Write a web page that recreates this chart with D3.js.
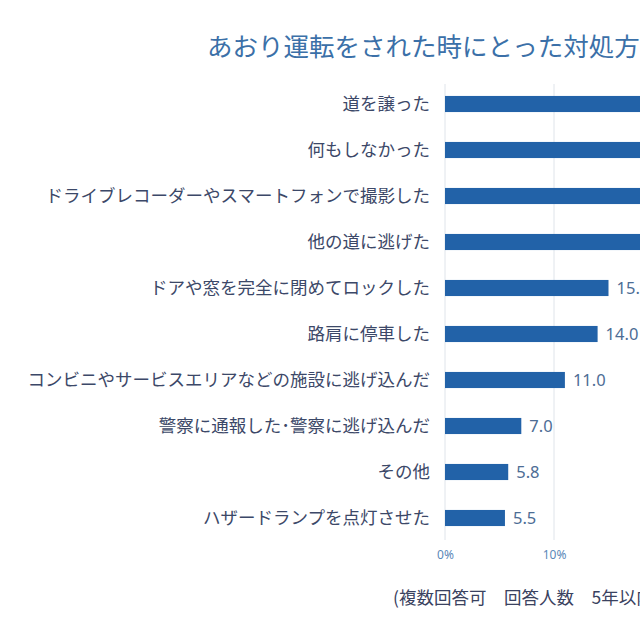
<!DOCTYPE html>
<html>
<head>
<meta charset="utf-8">
<script src="https://cdn.jsdelivr.net/npm/d3@7"></script>
<style>
  html, body { margin: 0; padding: 0; background: #fff; overflow: hidden; }
  svg { display: block; font-family: "Noto Sans CJK JP", "Noto Sans", sans-serif; }
</style>
</head>
<body>
<svg id="chart"></svg>
<script>
// data (top four bars run past the crop, values estimated)
const categories = [
  "道を譲った",
  "何もしなかった",
  "ドライブレコーダーやスマートフォンで撮影した",
  "他の道に逃げた",
  "ドアや窓を完全に閉めてロックした",
  "路肩に停車した",
  "コンビニやサービスエリアなどの施設に逃げ込んだ",
  "警察に通報した･警察に逃げ込んだ",
  "その他",
  "ハザードランプを点灯させた"
];
const values = [48.0, 30.5, 22.0, 19.5, 15.0, 14.0, 11.0, 7.0, 5.8, 5.5];
const ticks = [0, 10, 20, 30, 40, 50, 60];
const title = "あおり運転をされた時にとった対処方法";
const note = "(複数回答可　回答人数　5年以内にあおり運転をされたことがある人)";

const width = 1200, height = 640;
const svg = d3.select('#chart').attr('width', width).attr('height', height);

// x: 0% at 445px, 10.9px per point
const x = d3.scaleLinear().domain([0, 60]).range([445, 445 + 654]);
const y = d3.scaleBand().domain(categories).range([81, 541]).paddingInner(0.65).paddingOuter(0.325);

// gridlines
svg.append('g')
  .selectAll('line')
  .data(ticks)
  .enter().append('line')
  .attr('x1', d => x(d)).attr('x2', d => x(d))
  .attr('y1', 84).attr('y2', 540)
  .attr('stroke', '#dfe4ea')
  .attr('stroke-width', 1);

// x axis tick labels
const xAxis = d3.axisBottom(x).tickValues(ticks).tickFormat(d => d + '%').tickSize(0).tickPadding(0);
const ax = svg.append('g').attr('transform', 'translate(0,550)').call(xAxis);
ax.select('.domain').remove();
ax.selectAll('text')
  .attr('font-size', 12)
  .attr('fill', '#5b88b8')
  .attr('font-family', '"Noto Sans", sans-serif');

// bars
svg.append('g')
  .selectAll('rect')
  .data(values)
  .enter().append('rect')
  .attr('x', x(0))
  .attr('y', (d, i) => y(categories[i]))
  .attr('width', d => x(d) - x(0))
  .attr('height', y.bandwidth())
  .attr('fill', '#2262a8');

// category labels
svg.append('g')
  .selectAll('text')
  .data(categories)
  .enter().append('text')
  .text(d => d)
  .attr('x', 430)
  .attr('y', d => y(d) + y.bandwidth() / 2)
  .attr('dy', '0.36em')
  .attr('text-anchor', 'end')
  .attr('font-size', 17.5)
  .attr('fill', '#3c4868');

// value labels
svg.append('g')
  .selectAll('text')
  .data(values)
  .enter().append('text')
  .text(d => d.toFixed(1))
  .attr('x', d => x(d) + 8)
  .attr('y', (d, i) => y(categories[i]) + y.bandwidth() / 2)
  .attr('dy', '0.36em')
  .attr('font-size', 16.5)
  .attr('fill', '#4d6d95')
  .attr('font-family', '"Noto Sans", sans-serif');

// title
svg.append('text')
  .text(title)
  .attr('x', 207)
  .attr('y', 56)
  .attr('font-size', 25.5)
  .attr('fill', '#3b70a8');

// footnote
svg.append('text')
  .text(note)
  .attr('x', 393)
  .attr('y', 604)
  .attr('font-size', 17.5)
  .attr('fill', '#3a4260');
</script>
</body>
</html>
